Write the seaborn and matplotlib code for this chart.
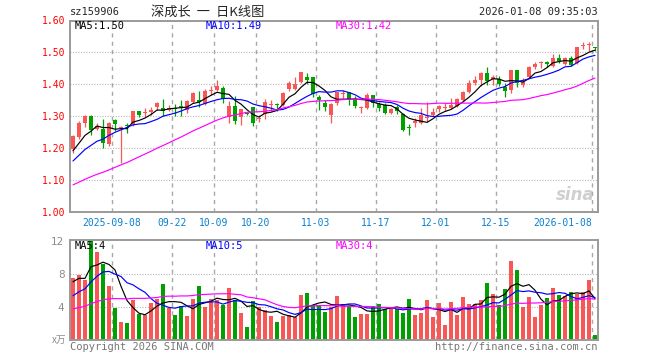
import numpy as np
import pandas as pd
import matplotlib
matplotlib.use("Agg")
import matplotlib.pyplot as plt
import seaborn as sns

# ── daily bars (2025-08-28 .. 2026-01-08) ──
opens = [1.197, 1.236, 1.280, 1.301, 1.260, 1.261, 1.212, 1.289, 1.262, 1.273,
         1.275, 1.317, 1.309, 1.314, 1.330, 1.326, 1.321, 1.326, 1.333, 1.321,
         1.344, 1.351, 1.339, 1.379, 1.382, 1.389, 1.299, 1.333, 1.299, 1.310,
         1.330, 1.292, 1.307, 1.336, 1.338, 1.335, 1.384, 1.386, 1.406, 1.424,
         1.424, 1.359, 1.343, 1.305, 1.340, 1.371, 1.375, 1.351, 1.326, 1.327,
         1.367, 1.339, 1.335, 1.311, 1.330, 1.307, 1.266, 1.278, 1.278, 1.294,
         1.304, 1.323, 1.327, 1.325, 1.332, 1.351, 1.375, 1.403, 1.414, 1.434,
         1.416, 1.416, 1.393, 1.382, 1.445, 1.398, 1.422, 1.453, 1.468, 1.471,
         1.457, 1.484, 1.464, 1.481, 1.466, 1.520, 1.522, 1.516]
closes = [1.239, 1.279, 1.302, 1.257, 1.270, 1.215, 1.279, 1.276, 1.266, 1.270,
          1.317, 1.305, 1.314, 1.321, 1.340, 1.315, 1.326, 1.324, 1.330, 1.348,
          1.372, 1.346, 1.380, 1.382, 1.395, 1.353, 1.333, 1.286, 1.323, 1.307,
          1.278, 1.294, 1.346, 1.338, 1.335, 1.374, 1.405, 1.400, 1.439, 1.414,
          1.370, 1.351, 1.330, 1.339, 1.375, 1.373, 1.351, 1.333, 1.330, 1.367,
          1.341, 1.325, 1.311, 1.323, 1.315, 1.257, 1.262, 1.285, 1.304, 1.296,
          1.314, 1.332, 1.329, 1.335, 1.354, 1.375, 1.405, 1.414, 1.434, 1.410,
          1.424, 1.401, 1.379, 1.445, 1.403, 1.408, 1.455, 1.465, 1.470, 1.464,
          1.484, 1.474, 1.481, 1.460, 1.516, 1.522, 1.524, 1.513]
highs = [1.240, 1.284, 1.303, 1.303, 1.278, 1.292, 1.281, 1.292, 1.270, 1.280,
         1.318, 1.318, 1.326, 1.330, 1.345, 1.353, 1.334, 1.337, 1.350, 1.351,
         1.377, 1.380, 1.384, 1.396, 1.415, 1.395, 1.349, 1.364, 1.323, 1.314,
         1.330, 1.305, 1.353, 1.351, 1.341, 1.376, 1.412, 1.424, 1.439, 1.436,
         1.424, 1.367, 1.351, 1.340, 1.377, 1.382, 1.377, 1.364, 1.332, 1.372,
         1.368, 1.346, 1.341, 1.325, 1.335, 1.309, 1.276, 1.296, 1.325, 1.346,
         1.325, 1.335, 1.340, 1.356, 1.356, 1.379, 1.414, 1.426, 1.440, 1.455,
         1.430, 1.426, 1.403, 1.445, 1.445, 1.419, 1.456, 1.471, 1.474, 1.474,
         1.495, 1.495, 1.487, 1.489, 1.516, 1.533, 1.534, 1.518]
lows = [1.186, 1.230, 1.266, 1.240, 1.258, 1.202, 1.208, 1.255, 1.152, 1.249,
        1.270, 1.298, 1.299, 1.304, 1.320, 1.301, 1.315, 1.300, 1.300, 1.309,
        1.341, 1.330, 1.335, 1.367, 1.380, 1.343, 1.278, 1.276, 1.272, 1.303,
        1.270, 1.283, 1.292, 1.315, 1.315, 1.333, 1.380, 1.382, 1.403, 1.400,
        1.359, 1.320, 1.315, 1.280, 1.336, 1.356, 1.335, 1.325, 1.309, 1.322,
        1.330, 1.317, 1.307, 1.307, 1.307, 1.254, 1.240, 1.266, 1.275, 1.283,
        1.302, 1.314, 1.318, 1.322, 1.330, 1.348, 1.372, 1.398, 1.395, 1.398,
        1.398, 1.395, 1.361, 1.374, 1.393, 1.393, 1.420, 1.448, 1.450, 1.453,
        1.453, 1.468, 1.460, 1.458, 1.464, 1.512, 1.505, 1.505]
volumes = [7.5, 7.9, 7.2, 12.1, 10.7, 9.2, 6.5, 3.9, 2.2, 2.1,
           4.9, 3.1, 3.0, 4.5, 5.0, 6.8, 3.9, 3.0, 4.1, 2.9,
           5.0, 6.5, 4.0, 5.0, 4.8, 4.2, 6.3, 4.9, 3.3, 1.6,
           4.7, 4.0, 3.6, 2.9, 2.2, 2.9, 3.0, 2.8, 5.5, 5.7,
           4.2, 4.2, 3.4, 4.0, 5.3, 4.4, 4.1, 2.8, 3.15, 3.15,
           4.1, 4.4, 3.8, 4.0, 3.7, 3.3, 5.0, 3.0, 3.3, 4.8,
           2.8, 4.5, 1.8, 4.6, 3.0, 5.2, 4.4, 4.4, 4.8, 6.9,
           5.6, 4.2, 6.2, 9.6, 8.5, 4.0, 5.2, 2.8, 4.2, 5.1,
           6.3, 5.5, 5.3, 5.8, 5.6, 5.8, 7.2, 0.6]

# sessions before the window (not drawn) - estimated so the MA lines start where they do
pre_close = [1.02, 1.03, 1.02, 1.04, 1.03, 1.05, 1.04, 1.03, 1.05, 1.05,
             1.04, 1.05, 1.06, 1.05, 1.07, 1.06, 1.05, 1.07, 1.06, 1.08,
             1.10, 1.12, 1.13, 1.14, 1.15, 1.16, 1.18, 1.19, 1.19]
pre_vol = [2.5, 2.8, 2.6, 3.0, 2.7, 2.9, 3.1, 2.6, 2.8, 3.0,
           3.2, 2.9, 3.1, 3.3, 2.8, 3.0, 3.2, 3.1, 3.0, 3.3,
           3.2, 3.5, 3.8, 3.9, 3.95, 5.85, 7.2, 5.05, 9.65]

date_pos = [7, 17, 24, 31, 41, 51, 61, 71, 87]
date_labels = ["2025-09-08", "09-22", "10-09", "10-20", "11-03",
               "11-17", "12-01", "12-15", "2026-01-08"]
price_ticks = [1.00, 1.10, 1.20, 1.30, 1.40, 1.50, 1.60]
vol_ticks = [4, 8, 12]
price_legend = ["MA5:1.50", "MA10:1.49", "MA30:1.42"]
vol_legend = ["MA5:4", "MA10:5", "MA30:4"]

RED = "#f95656"
GREEN = "#00a000"
GRID = "#a8a8a8"
FRAME = "#9a9a9a"

n = len(closes)
x = np.arange(n)
o, c, h, l = map(np.array, (opens, closes, highs, lows))
up = c >= o
colors = np.where(up, RED, GREEN)


def moving_avgs(pre, vals):
    s = pd.Series(list(pre) + list(vals))
    return {w: s.rolling(w).mean().iloc[len(pre):].to_numpy() for w in (5, 10, 30)}


ma_p = moving_avgs(pre_close, closes)
ma_v = moving_avgs(pre_vol, volumes)
ma_cols = {5: "black", 10: "#0000ff", 30: "#ff00ff"}

sns.set_style("white")
plt.rcParams["font.family"] = ["DejaVu Sans Mono", "Noto Sans CJK SC"]

W, H = 660, 360
fig = plt.figure(figsize=(6.6, 3.6), dpi=100)


def fx(px):
    return px / W


def fy(py):
    return 1 - py / H


ax = fig.add_axes([fx(70), fy(212), 528 / W, 191.5 / H])
axv = fig.add_axes([fx(70), fy(340), 528 / W, 100 / H])

# ── price panel ───────────────────────────────
ax.hlines(price_ticks[1:-1], -0.5, n - 0.5, colors=GRID, lw=0.8,
          linestyles=(0, (0.8, 1.6)), zorder=1)
ax.vlines(np.array(date_pos) - 0.5, 1.0, 1.6, colors=GRID, lw=1,
          linestyles=(0, (3, 3)), zorder=1)

ax.vlines(x, l, h, colors=colors, lw=0.9, zorder=3)
body_lo = np.minimum(o, c)
body_h = np.maximum(np.abs(c - o), 0.003)
ax.bar(x, body_h, bottom=body_lo, width=0.8, color=colors, lw=0, zorder=4)

for w, col in ma_cols.items():
    sns.lineplot(x=x, y=ma_p[w], color=col, lw=0.85, ax=ax, zorder=5)

ax.set_xlim(-0.5, n - 0.5)
ax.set_ylim(1.0, 1.6)
ax.set_yticks(price_ticks)
ax.set_yticklabels([f"{t:.2f}" for t in price_ticks])
ax.tick_params(axis="y", length=0, pad=3, labelsize=7, labelcolor="red")
ax.set_xticks(np.array(date_pos) - 0.5)
ax.set_xticklabels(date_labels)
ax.tick_params(axis="x", length=0, pad=4, labelsize=7, labelcolor="#0a80d0")
ax.get_xticklabels()[-1].set_horizontalalignment("right")
ax.set_xlabel("")
ax.set_ylabel("")

ax.text(0.993, 0.04, "sina", transform=ax.transAxes, ha="right", va="bottom",
        fontsize=12, fontweight="bold", style="italic", color="#cfcfcf",
        family="DejaVu Sans", zorder=0)

# ── volume panel ──────────────────────────────
axv.hlines(vol_ticks[:-1], -0.5, n - 0.5, colors=GRID, lw=0.8,
           linestyles=(0, (0.8, 1.6)), zorder=0)
axv.vlines(np.array(date_pos) - 0.5, 0, 12.1, colors=GRID, lw=1,
           linestyles=(0, (3, 3)), zorder=0)

vol_df = pd.DataFrame({"x": x, "vol": volumes,
                       "dir": np.where(up, "up", "down")})
sns.barplot(data=vol_df, x="x", y="vol", hue="dir", native_scale=True,
            palette={"up": RED, "down": GREEN}, dodge=False, width=0.83,
            saturation=1, linewidth=0, errorbar=None, legend=False, ax=axv)

for w, col in ma_cols.items():
    sns.lineplot(x=x, y=ma_v[w], color=col, lw=0.85, ax=axv, zorder=5)

axv.set_xlim(-0.5, n - 0.5)
axv.set_ylim(0, max(volumes))
axv.set_yticks(vol_ticks)
axv.set_yticklabels([str(t) for t in vol_ticks], family="DejaVu Sans")
axv.tick_params(axis="y", length=0, pad=4, labelsize=7.5, labelcolor="#8c8c8c")
axv.set_xticks([])
axv.set_xlabel("")
axv.set_ylabel("")

for a in (ax, axv):
    for sp in a.spines.values():
        sp.set_visible(True)
        sp.set_color(FRAME)
        sp.set_linewidth(1.4)

# ── texts ─────────────────────────────────────
fig.text(fx(70), fy(12), "sz159906", ha="left", va="center", fontsize=7.5)
fig.text(fx(151), fy(12), "深成长  一  日K线图", ha="left", va="center",
         fontsize=9.5, family=["Noto Sans CJK SC", "DejaVu Sans"])
fig.text(fx(598), fy(12), "2026-01-08 09:35:03", ha="right", va="center",
         fontsize=7.5)

legend_x = [75, 206, 336]
for lx, txt, col in zip(legend_x, price_legend, ma_cols.values()):
    fig.text(fx(lx), fy(26), txt, ha="left", va="center", fontsize=7.5, color=col)
for lx, txt, col in zip(legend_x, vol_legend, ma_cols.values()):
    fig.text(fx(lx), fy(246), txt, ha="left", va="center", fontsize=7.5, color=col)

fig.text(fx(66), fy(340), "x万", ha="right", va="center", fontsize=7,
         color="#8c8c8c", family=["Noto Sans CJK SC", "DejaVu Sans"])
fig.text(fx(70), fy(347), "Copyright 2026 SINA.COM", ha="left", va="center",
         fontsize=7.5, color="#777777")
fig.text(fx(598), fy(347), "http://finance.sina.com.cn", ha="right",
         va="center", fontsize=7.5, color="#777777")

fig.savefig("out.png", dpi=100)
